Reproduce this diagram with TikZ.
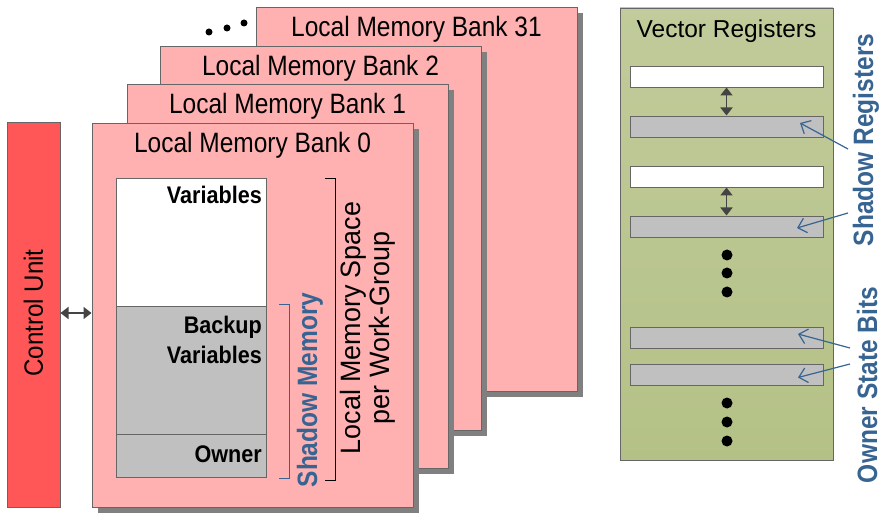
\documentclass[tikz,border=0pt]{standalone}
\usepackage{graphicx}
\usepackage{fontspec}
\setmainfont{Liberation Sans}
\usetikzlibrary{shadows,arrows.meta,calc}
\definecolor{bankfill}{HTML}{FFB1B1}
\definecolor{cufill}{HTML}{FF5757}
\definecolor{regtop}{HTML}{C1CB9B}
\definecolor{regbot}{HTML}{B4C186}
\definecolor{edge}{HTML}{666666}
\definecolor{shadowgray}{HTML}{808080}
\definecolor{cellgray}{HTML}{C0C0C0}
\definecolor{labelblue}{HTML}{386492}
\definecolor{arrowgray}{HTML}{444444}
\newcommand{\fsz}[2]{\fontsize{#1}{#2}\selectfont}
% horizontally condensed text
\newcommand{\narrow}[2]{\scalebox{#1}[1]{#2}}
\begin{document}
\begin{tikzpicture}[x=1pt,y=-1pt,
  box/.style={draw=edge, line width=0.9pt, inner sep=0pt, outer sep=0pt, anchor=north west},
  bank/.style={box, fill=bankfill, minimum width=321pt, minimum height=384pt,
    general shadow={fill=shadowgray, shadow xshift=6pt, shadow yshift=-6pt}},
  banktitle/.style={anchor=base, inner sep=0pt, font=\fsz{28}{32}},
  cell/.style={box, minimum width=150pt},
  celltext/.style={anchor=base east, inner sep=0pt, font=\bfseries\fsz{24}{28}},
  reg/.style={box, minimum width=193pt, minimum height=21pt},
  biarrow/.style={draw=arrowgray, line width=1.8pt,
    {Triangle[length=8pt,width=12pt]}-{Triangle[length=8pt,width=12pt]}, shorten <=0.5pt, shorten >=0.5pt},
  bluelabel/.style={rotate=90, inner sep=0pt, text=labelblue, font=\bfseries\fsz{28}{32}},
  pointer/.style={draw=labelblue, line width=1.2pt, -{Straight Barb[length=8pt,width=15pt]}},
  bigdot/.style={circle, fill=black, inner sep=0pt, minimum size=11pt},
  smalldot/.style={circle, fill=black, inner sep=0pt, minimum size=7pt}]
\useasboundingbox (0,0) rectangle (884,513);

% memory banks, back to front
\node[bank] (b31) at (256,7) {};
\path (b31.north) ++(0,30) node[banktitle] (t31) {\narrow{0.875}{Local Memory Bank 31}};
\node[bank] (b2) at (160,46) {};
\path (b2.north) ++(0,30) node[banktitle] (t2) {\narrow{0.875}{Local Memory Bank 2}};
\node[bank] (b1) at (127,84) {};
\path (b1.north) ++(0,30) node[banktitle] (t1) {\narrow{0.875}{Local Memory Bank 1}};
\node[bank] (b0) at (92,123) {};
\path (b0.north) ++(0,30) node[banktitle] (t0) {\narrow{0.875}{Local Memory Bank 0}};

% ellipsis for the remaining banks
\node[smalldot] (d1) at (209,32) {};
\node[smalldot] (d2) at (227,28) {};
\node[smalldot] (d3) at (244,23) {};

% local memory space of one work-group
\node[cell, fill=white, minimum height=128pt] (var) at (116,178) {};
\node[cell, fill=cellgray, minimum height=128pt] (bak) at (116,306) {};
\node[cell, fill=cellgray, minimum height=43pt] (own) at (116,434) {};
\node[celltext] (vart) at (262,204) {\narrow{0.9}{Variables}};
\node[celltext] (bakt1) at (262,333) {\narrow{0.9}{Backup}};
\node[celltext] (bakt2) at (262,363) {\narrow{0.9}{Variables}};
\node[celltext] (ownt) at (262,462) {\narrow{0.9}{Owner}};

% brackets
\coordinate (sm1) at (279,304);
\coordinate (sm2) at (279,478);
\draw[labelblue, line width=0.9pt] (sm1) -- ++(10,0) |- (sm2);
\coordinate (ls1) at (325,178);
\coordinate (ls2) at (325,480);
\draw[black, line width=0.9pt] (ls1) -- ++(10,0) |- (ls2);
\node[bluelabel] (smt) at (310,390) {\narrow{0.875}{Shadow Memory}};
\node[rotate=90, inner sep=0pt, align=center, font=\fsz{28}{29.5}] (lst) at (368,328)
  {\narrow{0.96}{Local Memory Space}\\\narrow{0.96}{per Work-Group}};

% control unit
\node[box, fill=cufill, minimum width=53pt, minimum height=385pt] (cu) at (7,122) {};
\node[rotate=90, inner sep=0pt, font=\fsz{26.5}{30}] (cut) at (cu.center |- 0,313) {\narrow{0.91}{Control Unit}};
\coordinate (cuport) at (cu.east |- 0,313);
\coordinate (bankport) at (b0.west |- 0,313);
\draw[biarrow] (cuport) -- (bankport);

% vector register file
\node[box, top color=regtop, bottom color=regbot, minimum width=213pt, minimum height=452pt] (vr) at (620,8) {};
\path (vr.north) ++(0,30) node[anchor=base, inner sep=0pt, font=\fsz{24.5}{29}] (vrt) {Vector Registers};
\node[reg, fill=white] (w1) at (630,66) {};
\node[reg, fill=cellgray] (g1) at (630,116) {};
\node[reg, fill=white] (w2) at (630,166) {};
\node[reg, fill=cellgray] (g2) at (630,216) {};
\node[reg, fill=cellgray] (g3) at (630,327) {};
\node[reg, fill=cellgray] (g4) at (630,364) {};
\draw[biarrow] (w1.south) -- (g1.north);
\draw[biarrow] (w2.south) -- (g2.north);
\node[bigdot] (v1) at (727,255) {};
\node[bigdot] (v2) at (727,273) {};
\node[bigdot] (v3) at (727,292) {};
\node[bigdot] (v4) at (727,403) {};
\node[bigdot] (v5) at (727,422) {};
\node[bigdot] (v6) at (727,441) {};

% side labels and pointers
\node[bluelabel] (srt) at (866,140) {\narrow{0.875}{Shadow Registers}};
\node[bluelabel] (osb) at (867,385) {\narrow{0.875}{Owner State Bits}};
\coordinate (p1) at (848,149);
\coordinate (p2) at (848,213);
\coordinate (p3) at (850,348);
\coordinate (p4) at (850,364);
\draw[pointer] (p1) -- ($(g1.east)+(-23,-3.5)$);
\draw[pointer] (p2) -- ($(g2.east)+(-26,1.5)$);
\draw[pointer] (p3) -- ($(g3.east)+(-25,-3.5)$);
\draw[pointer] (p4) -- ($(g4.east)+(-25,3)$);
\end{tikzpicture}
\end{document}
